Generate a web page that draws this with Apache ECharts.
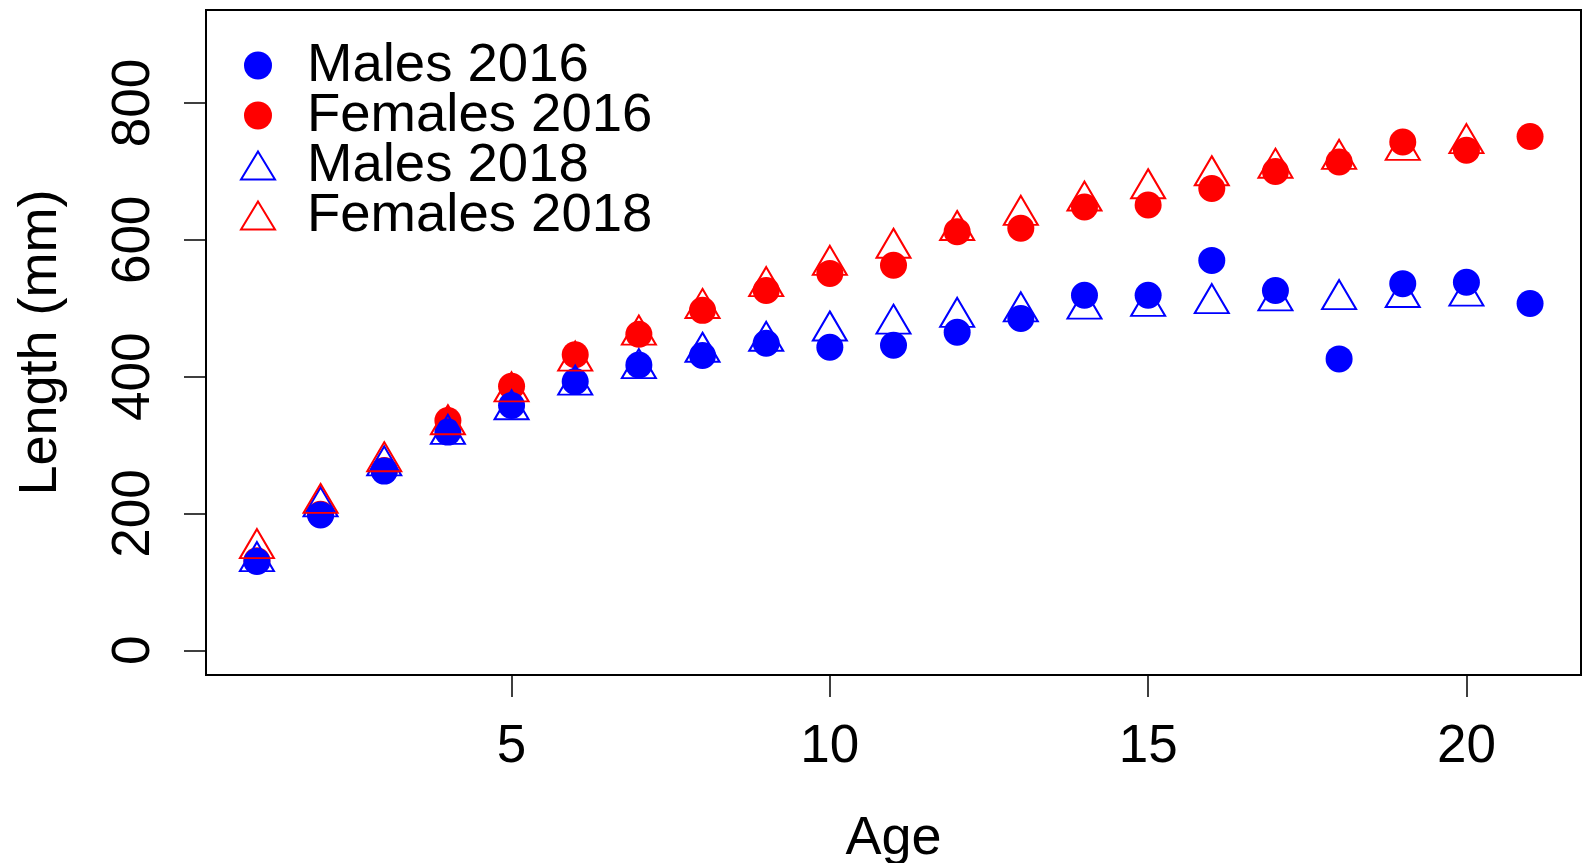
<!DOCTYPE html>
<html><head><meta charset="utf-8">
<script src="https://cdn.jsdelivr.net/npm/echarts@6/dist/echarts.min.js"></script>
<style>html,body{margin:0;padding:0;background:#fff}#c{width:1584px;height:863px}</style>
</head><body><div id="c"></div>
<script>
const ages = [1,2,3,4,5,6,7,8,9,10,11,12,13,14,15,16,17,18,19,20,21];
const males2016   = [130,198,262,319,358,393,417,431,449,443,446,465,485,519,519,570,526,426,536,538,507];
const females2016 = [131,199,263,336,386,432,462,497,526,551,563,612,617,648,651,675,700,714,743,731,751];
const males2018   = [130,210,270,316,352,388,412,436,452,467,477,487,495,499,503,507,511,513,516,518];
const females2018 = [149,215,276,330,378,423,461,500,532,563,588,614,636,657,675,694,705,718,731,741];
const xTicks = [5,10,15,20];
const yTicks = [0,200,400,600,800];
const seriesNames = ['Males 2016','Females 2016','Males 2018','Females 2018'];

const FONT = 'Liberation Sans, Arial, Helvetica, sans-serif';
const BLUE = '#0000FF', RED = '#FF0000';
const pairs = (vals) => vals.map((v, i) => [ages[i], v]);

const circleSize = 27;
const triSize = [34, 29];
const triOffset = [0, -triSize[1] / 6];

const chart = echarts.init(document.getElementById('c'), null, {renderer: 'canvas'});
chart.setOption({
  animation: false,
  backgroundColor: '#fff',
  grid: {left: 206, right: 3, top: 10, bottom: 188, show: true, borderColor: '#000', borderWidth: 2,
         backgroundColor: 'transparent', containLabel: false, outerBoundsMode: 'none'},
  legend: {
    orient: 'vertical', left: 235, top: 33,
    data: [seriesNames[0], seriesNames[1], seriesNames[2], seriesNames[3]],
    itemWidth: 34, itemHeight: 28, itemGap: -5,
    textStyle: {fontFamily: FONT, fontSize: 54.5, color: '#000', lineHeight: 49.7, padding: [0, 0, 0, 27]},
    selectedMode: false
  },
  xAxis: {
    type: 'value', min: 0.2, max: 21.8,
    name: 'Age', nameLocation: 'middle', nameGap: 137, nameMoveOverlap: false,
    nameTextStyle: {fontFamily: FONT, fontSize: 54, color: '#000'},
    axisLine: {show: false, onZero: false},
    axisTick: {show: true, inside: false, length: 22, customValues: xTicks, lineStyle: {color: '#000', width: 1.5}},
    axisLabel: {customValues: xTicks, margin: 46, fontFamily: FONT, fontSize: 53, color: '#000'},
    splitLine: {show: false}
  },
  yAxis: {
    type: 'value', min: -36, max: 936,
    name: 'Length (mm)', nameLocation: 'middle', nameGap: 138, nameRotate: 90, nameMoveOverlap: false,
    nameTextStyle: {fontFamily: FONT, fontSize: 54, color: '#000'},
    axisLine: {show: false, onZero: false},
    axisTick: {show: true, inside: false, length: 22, customValues: yTicks, lineStyle: {color: '#000', width: 1.5}},
    axisLabel: {customValues: yTicks, rotate: 90, margin: 45, fontFamily: FONT, fontSize: 53, color: '#000'},
    splitLine: {show: false}
  },
  series: [
    {name: seriesNames[1], type: 'scatter', data: pairs(females2016), symbol: 'circle', symbolSize: circleSize,
     itemStyle: {color: RED, opacity: 1}, z: 2},
    {name: seriesNames[0], type: 'scatter', data: pairs(males2016), symbol: 'circle', symbolSize: circleSize,
     itemStyle: {color: BLUE, opacity: 1}, z: 3},
    {name: seriesNames[2], type: 'scatter', data: pairs(males2018), symbol: 'triangle', symbolSize: triSize,
     symbolOffset: triOffset, symbolKeepAspect: false,
     itemStyle: {color: 'rgba(0,0,0,0)', borderColor: BLUE, borderWidth: 2, opacity: 1}, z: 4},
    {name: seriesNames[3], type: 'scatter', data: pairs(females2018), symbol: 'triangle', symbolSize: triSize,
     symbolOffset: triOffset, symbolKeepAspect: false,
     itemStyle: {color: 'rgba(0,0,0,0)', borderColor: RED, borderWidth: 2, opacity: 1}, z: 5}
  ]
});
</script>
</body></html>
